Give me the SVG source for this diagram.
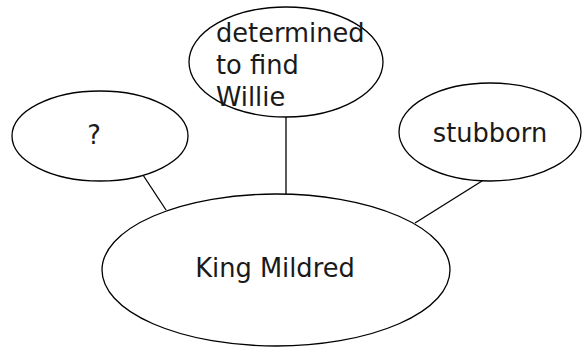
<svg xmlns="http://www.w3.org/2000/svg" width="583" height="347" viewBox="0 0 583 347">
<style>
.n{fill:#fff;stroke:#000;stroke-width:1.3}
.c{stroke:#000;stroke-width:1.3;fill:none}
.t{font-family:"DejaVu Sans",Verdana,sans-serif;font-size:25.7px;fill:#1a1a1a}
</style>
<rect width="583" height="347" fill="#fff"/>
<g id="connectors">
<line class="c" x1="286" y1="117" x2="286" y2="194"/>
<line class="c" x1="143" y1="175" x2="166" y2="210"/>
<line class="c" x1="482" y1="181" x2="415" y2="223"/>
</g>
<g id="king">
<ellipse class="n" cx="276" cy="270" rx="174" ry="76"/>
<text class="t" x="275" y="277" text-anchor="middle">King Mildred</text>
</g>
<g id="determined">
<ellipse class="n" cx="286" cy="62" rx="97" ry="55"/>
<text class="t" x="216" y="42">determined</text>
<text class="t" x="216" y="74">to find</text>
<text class="t" x="216" y="106">Willie</text>
</g>
<g id="question">
<ellipse class="n" cx="100" cy="136" rx="88" ry="45"/>
<text class="t" x="94" y="144" text-anchor="middle">?</text>
</g>
<g id="stubborn">
<ellipse class="n" cx="490" cy="132" rx="91" ry="49"/>
<text class="t" x="490" y="142" text-anchor="middle">stubborn</text>
</g>
</svg>
